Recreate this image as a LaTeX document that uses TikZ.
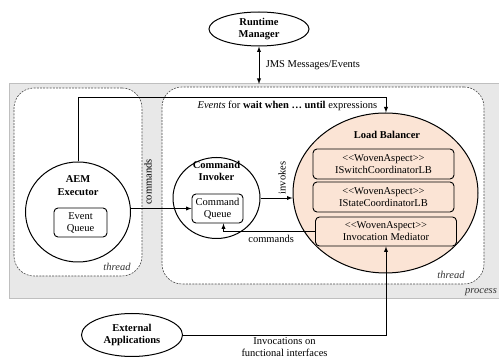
\documentclass[tikz,border=0pt]{standalone}
\usepackage{fontspec}
\setmainfont{Liberation Serif}
\usetikzlibrary{positioning,arrows,calc,shapes}
\definecolor{lbfill}{RGB}{251,228,213}
\newcommand{\woven}{{<}{<}WovenAspect{>}{>}}
\tikzset{
    x=1pt,
    y=-1pt,
    every node/.style={font=\fontsize{10.5}{12}\selectfont},
    component/.style = {
        draw,
        shape=ellipse,
        line width=1pt,
        inner sep=0pt
    },
    title/.style = {
        font=\fontsize{10.5}{12.5}\selectfont\bfseries,
        align=center
    },
    queue/.style = {
        draw,
        shape=rectangle,
        rounded corners=4pt,
        line width=0.9pt,
        align=center,
        inner sep=0pt
    },
    threadbox/.style = {
        draw=black!70,
        fill=white,
        shape=rectangle,
        rounded corners=20pt,
        line width=0.6pt,
        dash pattern=on 2pt off 1.2pt
    },
    processbox/.style = {
        draw=black!25,
        fill=black!9,
        shape=rectangle,
        line width=1pt
    },
    tag/.style = {
        font=\fontsize{10.5}{12}\selectfont\itshape,
        text=black!80
    },
    link/.style = {
        draw,
        line width=0.9pt
    },
    >=latex,
}
\begin{document}
\begin{tikzpicture}
            \useasboundingbox (0,0) rectangle (499,363);
            \node[processbox, minimum width=490, minimum height=215] (process) at (254,191.5) {};
            \node[threadbox, minimum width=128, minimum height=188] (lthread) at (78,182) {};
            \node[threadbox, minimum width=322, minimum height=197] (rthread) at (323,185.5) {};
            \node[tag] (lthreadtag) at (117,267) {thread};
            \node[tag] (rthreadtag) at (451,275) {thread};
            \node[tag] (processtag) at (481,292) {process};

            \node[component, minimum width=100, minimum height=34, title] (runtime) at (259,29) {Runtime\\Manager};
            \node[component, minimum width=101, minimum height=43, title] (external) at (132,335) {External\\Applications};

            \node[component, minimum width=105, minimum height=100] (aem) at (78,212) {};
            \node[title] (aemtitle) at (78,185.5) {AEM\\Executor};
            \node[queue, minimum width=53, minimum height=29] (eventq) at (80.5,222.5) {Event\\Queue};

            \node[component, minimum width=87, minimum height=81] (invoker) at (216.5,198) {};
            \node[title] (invokertitle) at (216.5,171) {Command\\Invoker};
            \node[queue, minimum width=51, minimum height=29] (cmdq) at (217.5,208.5) {Command\\Queue};

            \node[component, fill=lbfill, minimum width=185, minimum height=160] (lb) at (385.5,193) {};
            \node[title] (lbtitle) at (387,135) {Load Balancer};
            \node[queue, minimum width=141, minimum height=30] (switchlb) at (383.5,164) {\woven\\ISwitchCoordinatorLB};
            \node[queue, minimum width=141, minimum height=30] (statelb) at (383.5,197) {\woven\\IStateCoordinatorLB};
            \node[queue, minimum width=141, minimum height=29] (mediator) at (386,231.5) {\woven\\Invocation Mediator};

            \coordinate (jmsend) at (259,84);
            \coordinate (evcorner) at (386,97);

            \path[link, <->] (runtime.south) -- (jmsend) node [midway, right, xshift=3pt] {JMS Messages/Events};
            \path[link, ->] (aem.north) |- (evcorner) node [pos=0.84, below] {\textit{Events} for \textbf{wait when \dots\ until} expressions} -- (evcorner |- lb.north);
            \path[link, ->] (cmdq.west -| aem.east) -- (cmdq.west) node [pos=0.28, rotate=90, anchor=west] {commands};
            \path[link, ->] (invoker.east) -- (invoker.east -| lb.west) node [pos=0.67, rotate=90, anchor=west] {invokes};
            \path[link, ->] (mediator.west) -| ([xshift=6pt]cmdq.south) node [pos=0.24, below] {commands};
            \path[link, ->] (external.east) -| (mediator.south -| evcorner) node [pos=0.25, below, align=center, yshift=1pt] {Invocations on\\functional interfaces};
\end{tikzpicture}
\end{document}
